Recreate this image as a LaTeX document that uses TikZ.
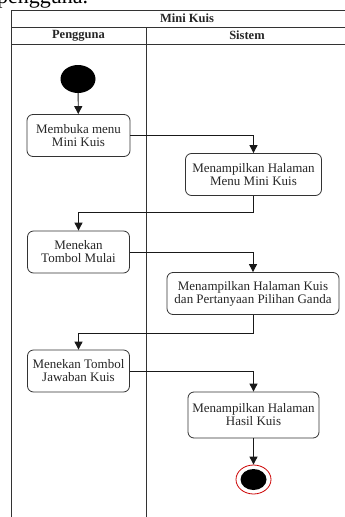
\documentclass[tikz,border=0pt]{standalone}
\usepackage{fontspec}
\setmainfont{Liberation Serif}
\usetikzlibrary{arrows.meta,shapes.geometric}

\begin{document}
\begin{tikzpicture}[x=1pt,y=-1pt,
  act/.style={draw=black!80, rounded corners=6pt, line width=0.8pt, align=center,
    font=\fontsize{13}{13}\selectfont, text=black!85, minimum height=42pt, inner sep=1pt},
  flow/.style={-{Triangle[length=8pt,width=8pt]}, line width=0.9pt, draw=black!90},
  lane/.style={line width=0.9pt, draw=black!80},
  head/.style={font=\bfseries\fontsize{12.5}{12.5}\selectfont, text=black!85, inner sep=0},
]
\useasboundingbox (0,0) rectangle (345,517);
\fill[white] (0,0) rectangle (345,517);

\begin{scope}
  \clip (0,0) rectangle (345,517);
  % caption text running above the diagram
  \node[anchor=base west, font=\fontsize{22}{22}\selectfont, inner sep=0] (cap) at (-3,3) {pengguna.};
  % swimlane frame
  \draw[lane] (11,517) -- (11,10) -- (360,10);
  \draw[lane] (11,27) -- (360,27);
  \draw[lane] (11,44) -- (360,44);
  \draw[lane] (146,27) -- (146,517);
\end{scope}

% headers
\node[head] (title) at (187,18.5) {Mini Kuis};
\node[head] (lane1) at (78.5,35.5) {Pengguna};
\node[head] (lane2) at (247,35.5) {Sistem};

% start and end
\node[ellipse, fill=black, minimum width=35pt, minimum height=28pt, inner sep=0] (start) at (78,79) {};
\node[ellipse, draw=red!80!black, fill=white, line width=0.8pt, minimum width=35pt, minimum height=29pt, inner sep=0] (end) at (253.5,479.5) {};
\node[ellipse, fill=black, minimum width=26pt, minimum height=21pt, inner sep=0] (endin) at (end.center) {};

% activities
\node[act, minimum width=103pt] (a1) at (78.5,135.5) {Membuka menu\\Mini Kuis};
\node[act, minimum width=136pt] (a2) at (253.5,174.5) {Menampilkan Halaman\\Menu Mini Kuis};
\node[act, minimum width=102pt] (a3) at (78.5,252) {Menekan\\Tombol Mulai};
\node[act, minimum width=172pt] (a4) at (253,293.5) {Menampilkan Halaman Kuis\\dan Pertanyaan Pilihan Ganda};
\node[act, minimum width=102pt] (a5) at (78.5,371) {Menekan Tombol\\Jawaban Kuis};
\node[act, minimum width=131pt, minimum height=46pt] (a6) at (253.5,415) {Menampilkan Halaman\\Hasil Kuis};

% flow
\draw[flow] (start) -- (a1);
\draw[flow] (a1.east) -| (a2.north);
\draw[flow] (a2.south) -- ++(0,17) -| (a3.north);
\draw[flow] (a3.east) -| (a4.north);
\draw[flow] (a4.south) -- ++(0,18.5) -| (a5.north);
\draw[flow] (a5.east) -| (a6.north);
\draw[flow] (a6) -- (end);
\end{tikzpicture}
\end{document}
